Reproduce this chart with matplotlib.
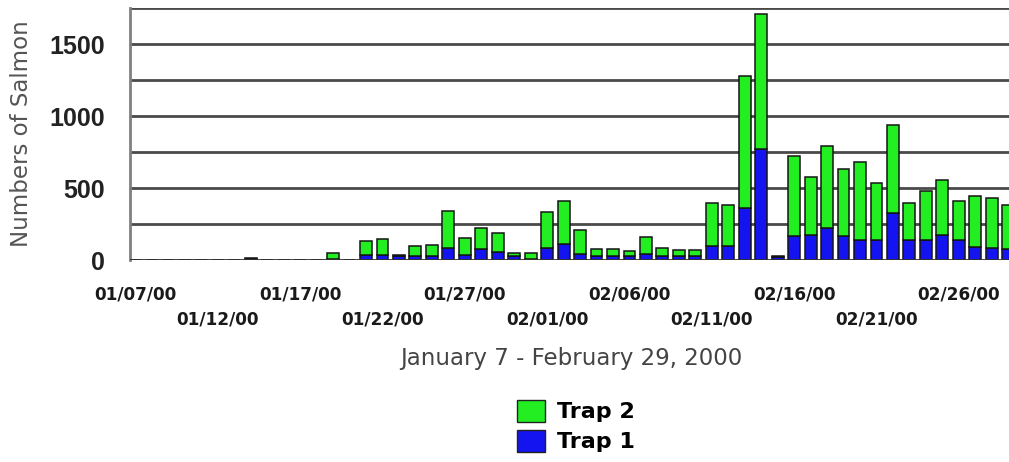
import numpy as np
import matplotlib
matplotlib.use("Agg")
import matplotlib.pyplot as plt
from matplotlib.patches import Patch

# daily counts, 01/07/00 .. 02/29/00 (54 days)
trap1 = [0, 0, 0, 0, 0, 0, 0, 10, 0, 0, 0, 0, 8, 0,
         37, 37, 30, 30, 30, 84, 37, 74, 53, 30, 10, 84, 112, 42,
         30, 30, 30, 42, 30, 30, 30, 100, 100, 363, 774, 22,
         164, 171, 224, 164, 141, 141, 328, 141, 136, 171, 136, 89, 85, 78]
trap2 = [0, 0, 0, 0, 0, 0, 0, 2, 0, 0, 0, 0, 42, 0,
         98, 107, 7, 65, 75, 255, 116, 149, 135, 19, 39, 246, 295, 165,
         44, 44, 35, 118, 55, 40, 40, 298, 279, 916, 932, 4,
         561, 406, 571, 471, 541, 394, 607, 255, 341, 387, 271, 353, 345, 306]
date_labels = ["01/07/00", "01/12/00", "01/17/00", "01/22/00", "01/27/00", "02/01/00",
               "02/06/00", "02/11/00", "02/16/00", "02/21/00", "02/26/00"]

days = np.arange(len(trap1))

fig = plt.figure(figsize=(10.09, 4.62), dpi=100)
ax = fig.add_axes([130/1009, 202/462, 879/1009, 252/462])

# grid lines every 250
for yv in range(250, 1751, 250):
    ax.axhline(yv, color="#4a4a4a", lw=2, zorder=0)
ax.axhline(0, color="#333333", lw=2, zorder=3)

ax.bar(days, trap1, width=0.72, color="#1414f0", edgecolor="#151515", lw=1.1, zorder=2)
ax.bar(days, trap2, width=0.72, bottom=trap1, color="#22ee22", edgecolor="#151515", lw=1.1, zorder=2)

ax.set_xlim(-0.33, 53.05)
ax.set_ylim(0, 1750)
for s in ["top", "right", "bottom"]:
    ax.spines[s].set_visible(False)
ax.spines["left"].set_color("#808080")
ax.spines["left"].set_linewidth(2)

ax.set_yticks([0, 500, 1000, 1500])
ax.set_yticklabels(["0", "500", "1000", "1500"], fontsize=18, fontweight="bold",
                   family="Liberation Sans", color="#222222")
ax.tick_params(axis="y", length=0, pad=18)
ax.set_xticks([])

# staggered date labels
for i, lab in enumerate(date_labels):
    yoff = -0.135 if i % 2 == 0 else -0.238
    ax.text(i * 5, yoff, lab, transform=ax.get_xaxis_transform(), ha="center", va="center",
            fontsize=12.2, fontweight="bold", color="#1a1a1a", family="DejaVu Sans")

ax.set_ylabel("Numbers of Salmon", fontsize=16.5, color="#555555", labelpad=12)
fig.text(571/1009, 1 - 358/462, "January 7 - February 29, 2000", ha="center", va="center",
         fontsize=16.5, color="#444444")

handles = [Patch(facecolor="#22ee22", edgecolor="#222222", label="Trap 2"),
           Patch(facecolor="#1414f0", edgecolor="#222222", label="Trap 1")]
fig.legend(handles=handles, loc="center", bbox_to_anchor=(576/1009, 1 - 426/462),
           frameon=False, prop={"size": 16, "weight": "bold"},
           handlelength=1.25, handleheight=1.15, labelspacing=0.35, handletextpad=0.55)

fig.savefig("out.png", dpi=100)
